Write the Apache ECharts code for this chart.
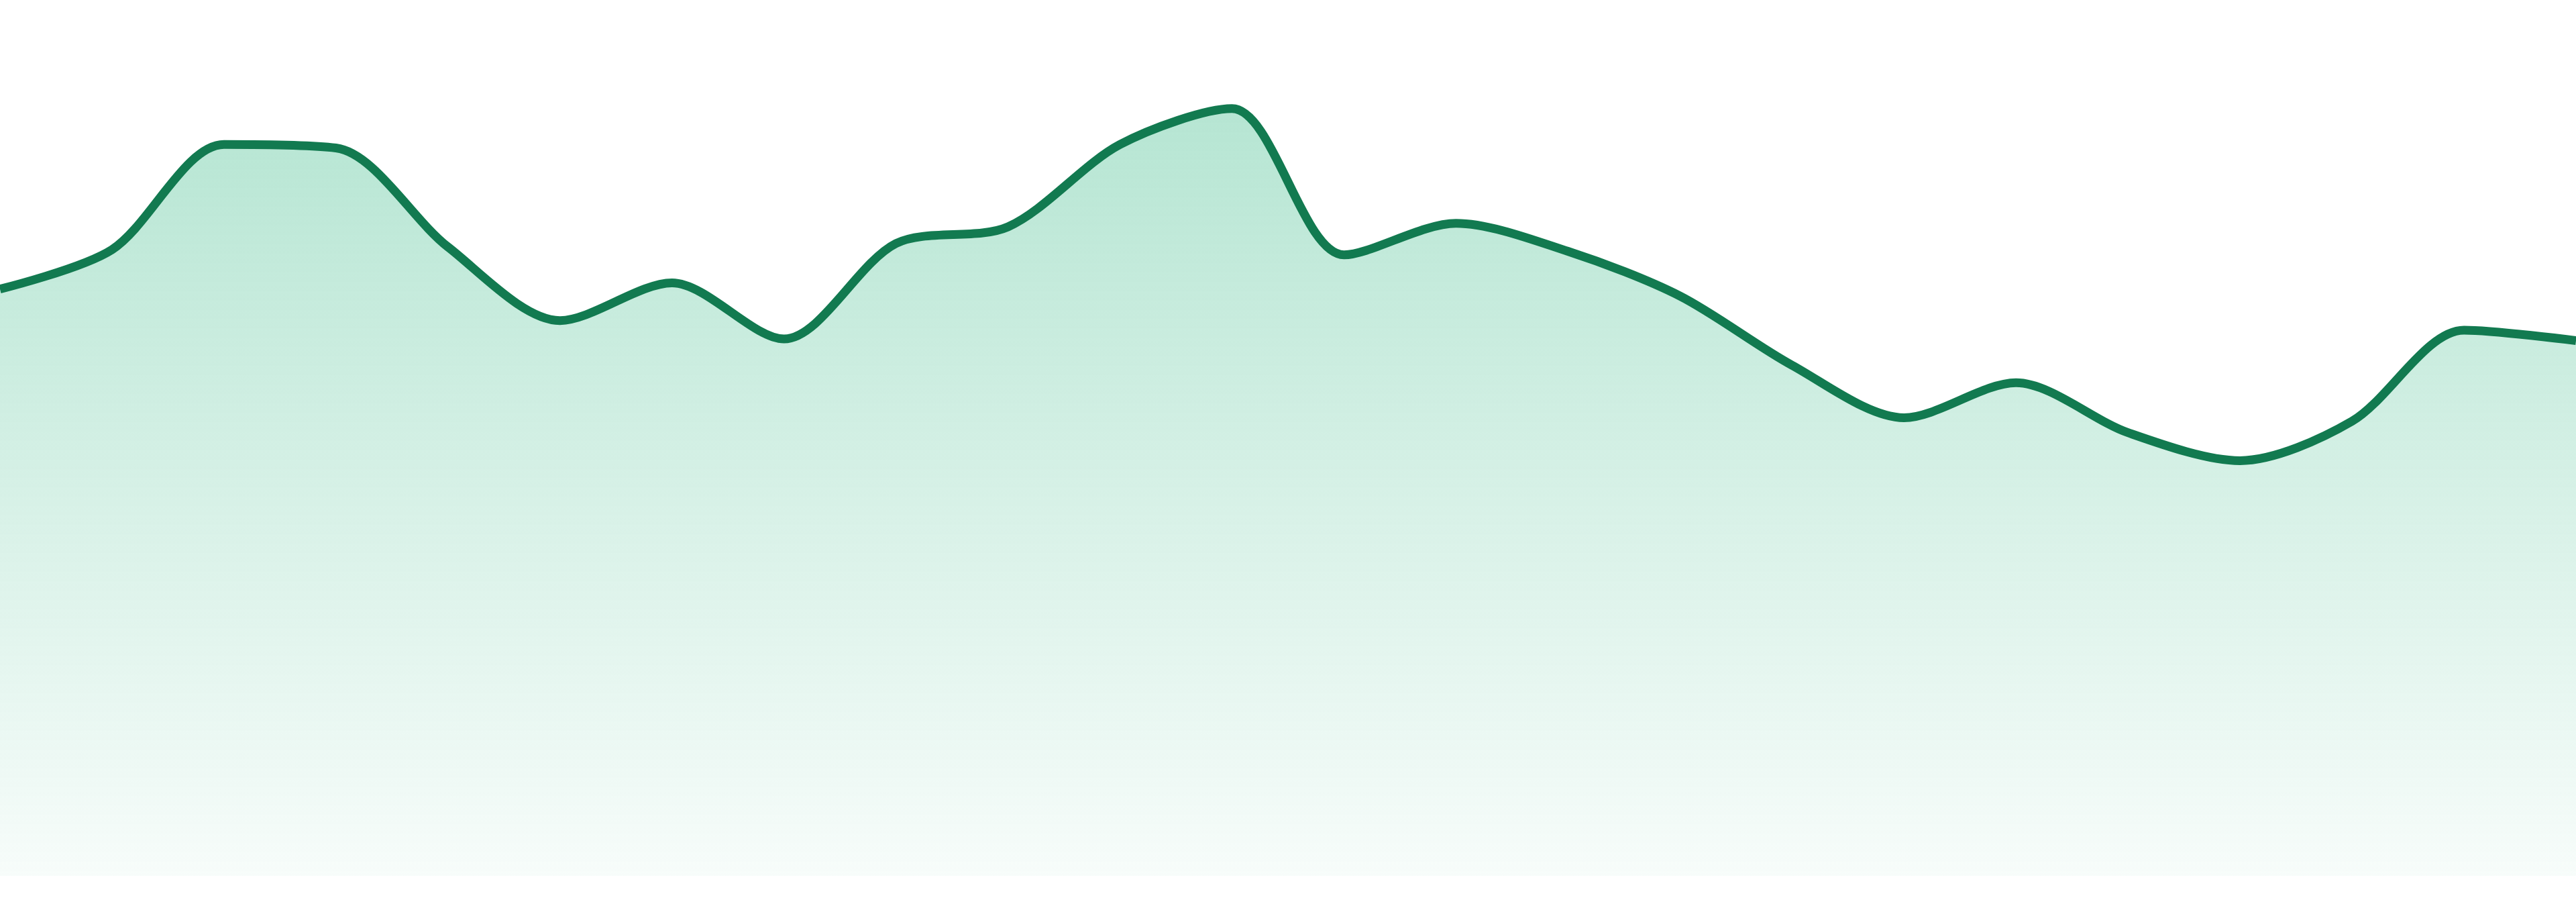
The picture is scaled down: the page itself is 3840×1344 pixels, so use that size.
<!DOCTYPE html>
<html lang="en">
<head>
  <meta charset="UTF-8" />
  <title>Area</title>
  <script src="https://cdn.jsdelivr.net/npm/echarts@6/dist/echarts.min.js"></script>
  <style>
    html, body { margin: 0; padding: 0; background: #ffffff; }
  </style>
</head>
<body>
  <div id="main" style="width:3840px; height:1344px;"></div>
  <script type="text/javascript">
    // categories (one per point, 24 in total)
    const categories = ['1', '2', '3', '4', '5', '6', '7', '8', '9', '10', '11', '12',
                        '13', '14', '15', '16', '17', '18', '19', '20', '21', '22', '23', '24'];

    // values
    const values = [67.0, 71.5, 83.5, 83.1, 71.8, 63.4, 67.7, 61.3, 72.2, 74.1, 83.5, 87.6,
                    70.9, 74.5, 71.3, 66.2, 58.3, 52.3, 56.3, 50.6, 47.4, 51.9, 62.3, 61.1];

    const lineColor = '#127a50';

    var myChart = echarts.init(document.getElementById('main'));
    myChart.setOption({
      animation: false,
      grid: { left: 0, right: 0, top: 0, bottom: 39 },
      xAxis: {
        type: 'category',
        data: categories,
        boundaryGap: false,
        show: false
      },
      yAxis: {
        type: 'value',
        min: 0,
        max: 100,
        show: false
      },
      series: [{
        type: 'line',
        data: values,
        smooth: 0.3,
        symbol: 'none',
        lineStyle: { color: lineColor, width: 13 },
        areaStyle: {
          opacity: 1,
          color: new echarts.graphic.LinearGradient(0, 0, 0, 1, [
            { offset: 0, color: 'rgba(52,184,132,0.36)' },
            { offset: 1, color: 'rgba(52,184,132,0.04)' }
          ])
        }
      }]
    });
  </script>
</body>
</html>
